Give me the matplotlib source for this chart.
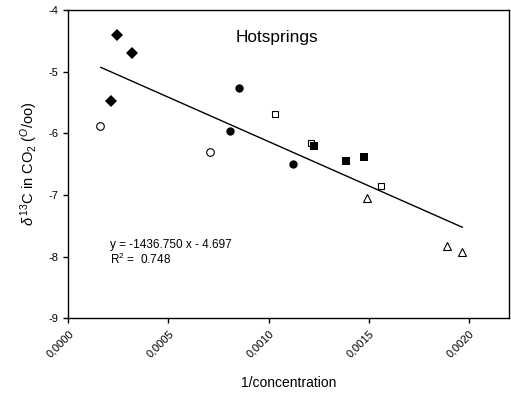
import matplotlib
matplotlib.use('Agg')
import matplotlib.pyplot as plt
import numpy as np

plt.rcParams['font.family'] = 'Liberation Sans'
plt.rcParams['mathtext.fontset'] = 'custom'
plt.rcParams['mathtext.rm'] = 'Liberation Sans'
plt.rcParams['mathtext.it'] = 'Liberation Sans:italic'
plt.rcParams['axes.unicode_minus'] = False

# data
diamond_x = [0.000242, 0.000318, 0.000215]
diamond_y = [-4.40, -4.69, -5.47]
open_circle_x = [0.000159, 0.000707]
open_circle_y = [-5.88, -6.31]
circle_x = [0.000850, 0.000805, 0.001124]
circle_y = [-5.27, -5.97, -6.50]
open_square_x = [0.001034, 0.001212, 0.001562]
open_square_y = [-5.68, -6.16, -6.85]
square_x = [0.001227, 0.001384, 0.001475]
square_y = [-6.21, -6.45, -6.39]
triangle_x = [0.001492, 0.001889, 0.001967]
triangle_y = [-7.05, -7.83, -7.92]

slope = -1436.750
intercept = -4.697
r2 = 0.748
fit_x = [0.000162, 0.001967]

x_ticks = [0.0000, 0.0005, 0.0010, 0.0015, 0.0020]
x_ticklabels = ['0,0000', '0,0005', '0,0010', '0,0015', '0,0020']
y_ticks = [-9, -8, -7, -6, -5, -4]

fig = plt.figure(figsize=(5.11, 3.94), dpi=100)
ax = fig.add_axes([0.1337, 0.1921, 0.8623, 0.7825])

ax.plot(diamond_x, diamond_y, 'D', color='black', markersize=6, mew=0, linestyle='none')
ax.plot(open_circle_x, open_circle_y, 'o', mfc='white', mec='black', mew=0.8, markersize=5.5, linestyle='none')
ax.plot(circle_x, circle_y, 'o', color='black', markersize=6, mew=0, linestyle='none')
ax.plot(open_square_x, open_square_y, 's', mfc='white', mec='black', mew=0.8, markersize=5, linestyle='none')
ax.plot(square_x, square_y, 's', color='black', markersize=5.5, mew=0, linestyle='none')
ax.plot(triangle_x, triangle_y, '^', mfc='white', mec='black', mew=0.8, markersize=6, linestyle='none')

fx = np.array(fit_x)
ax.plot(fx, slope * fx + intercept, color='black', linewidth=1.0)

ax.set_xlim(0, 0.0022)
ax.set_ylim(-9, -4)
ax.set_xticks(x_ticks)
ax.set_xticklabels(x_ticklabels, rotation=45, ha='right', rotation_mode='anchor')
ax.set_yticks(y_ticks)
ax.tick_params(direction='out', length=3.5, width=1, labelsize=8, top=False, right=False)
for s in ax.spines.values():
    s.set_linewidth(1.0)

ax.set_xlabel('1/concentration', fontsize=10, labelpad=12)
ax.set_ylabel(r'$\delta^{\,13}$C in CO$_2$ ($^{O}$/oo)', fontsize=10.5, labelpad=6)

ax.text(0.00104, -4.44, 'Hotsprings', fontsize=12.4, ha='center', va='center')
ax.text(0.000208, -7.86, 'y = %.3f x - %.3f' % (slope, -intercept), fontsize=8.5)
ax.text(0.000208, -8.12, r'R$^2$ =  %.3f' % r2, fontsize=8.5)

fig.savefig('out.png', dpi=100)
